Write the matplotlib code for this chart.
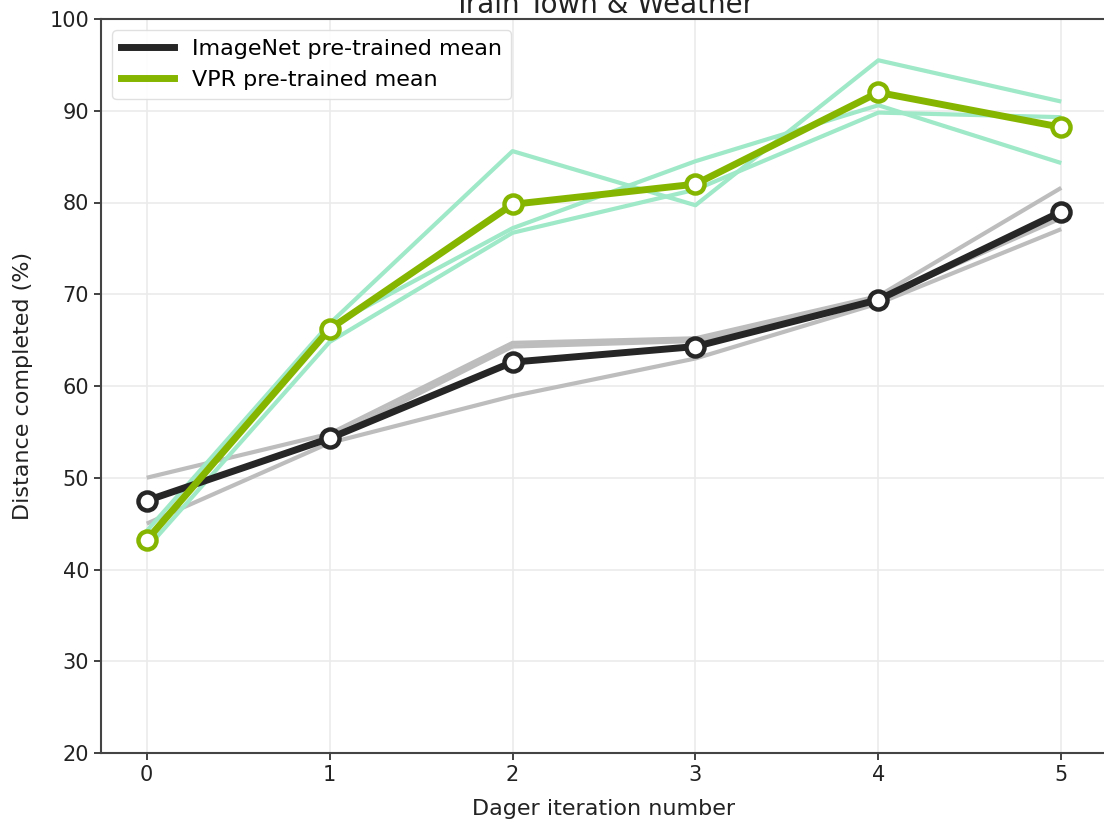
import matplotlib
matplotlib.use("Agg")
import matplotlib.pyplot as plt
from matplotlib.lines import Line2D

iterations = [0, 1, 2, 3, 4, 5]

imagenet_runs = [
    [50.0, 54.8, 64.7, 65.2, 69.8, 81.6],
    [47.5, 54.3, 64.3, 64.9, 69.5, 78.3],
    [45.0, 53.8, 58.9, 63.0, 69.0, 77.1],
]
vpr_runs = [
    [44.2, 66.8, 85.6, 79.7, 95.5, 91.0],
    [43.0, 66.5, 77.2, 84.5, 90.6, 84.3],
    [42.3, 64.8, 76.7, 81.4, 89.8, 89.3],
]
imagenet_mean = [47.5, 54.3, 62.6, 64.3, 69.4, 79.0]
vpr_mean = [43.2, 66.2, 79.8, 82.0, 92.0, 88.2]

labels = ["ImageNet pre-trained mean", "VPR pre-trained mean"]
title = "Train Town & Weather"
xlabel = "Dager iteration number"
ylabel = "Distance completed (%)"
yticks = [20, 30, 40, 50, 60, 70, 80, 90, 100]

c_black = "#262626"
c_green = "#86b500"
c_gray = "#bdbdbd"
c_lgreen = "#9fe8c8"

fig = plt.figure(figsize=(11.04, 8.23), dpi=100)
ax = fig.add_axes([101/1104, 1-753/823, 1006/1104, (753-19)/823])

for r in imagenet_runs:
    ax.plot(iterations, r, color=c_gray, lw=3, zorder=2, solid_capstyle="butt")
for r in vpr_runs:
    ax.plot(iterations, r, color=c_lgreen, lw=3, zorder=2, solid_capstyle="butt")

ax.plot(iterations, imagenet_mean, color=c_black, lw=5, zorder=3,
        marker="o", ms=13, mfc="white", mec=c_black, mew=3.2)
ax.plot(iterations, vpr_mean, color=c_green, lw=5, zorder=4,
        marker="o", ms=13, mfc="white", mec=c_green, mew=3.2)

handles = [Line2D([], [], color=c_black, lw=5), Line2D([], [], color=c_green, lw=5)]
ax.legend(handles, labels, loc="upper left", fontsize=16, handlelength=2.4,
          borderaxespad=0.5, framealpha=0.9, edgecolor="#dddddd")

ax.set_xlim(-0.25, 5.25)
ax.set_ylim(20, 100)
ax.set_yticks(yticks)
ax.set_xticks(iterations)
ax.grid(True, color="#ebebeb", lw=1.2, zorder=0)
ax.set_axisbelow(True)
ax.tick_params(labelsize=15, length=5, width=1.3, color="#333333", labelcolor="#222222")
for s in ax.spines.values():
    s.set_color("#444444")
    s.set_linewidth(1.5)
ax.set_xlabel(xlabel, fontsize=16, color="#222222", labelpad=10)
ax.set_ylabel(ylabel, fontsize=16, color="#222222", labelpad=12)
ax.set_title(title, fontsize=20, color="#222222", pad=3.5)

fig.savefig("out.png", dpi=100)
